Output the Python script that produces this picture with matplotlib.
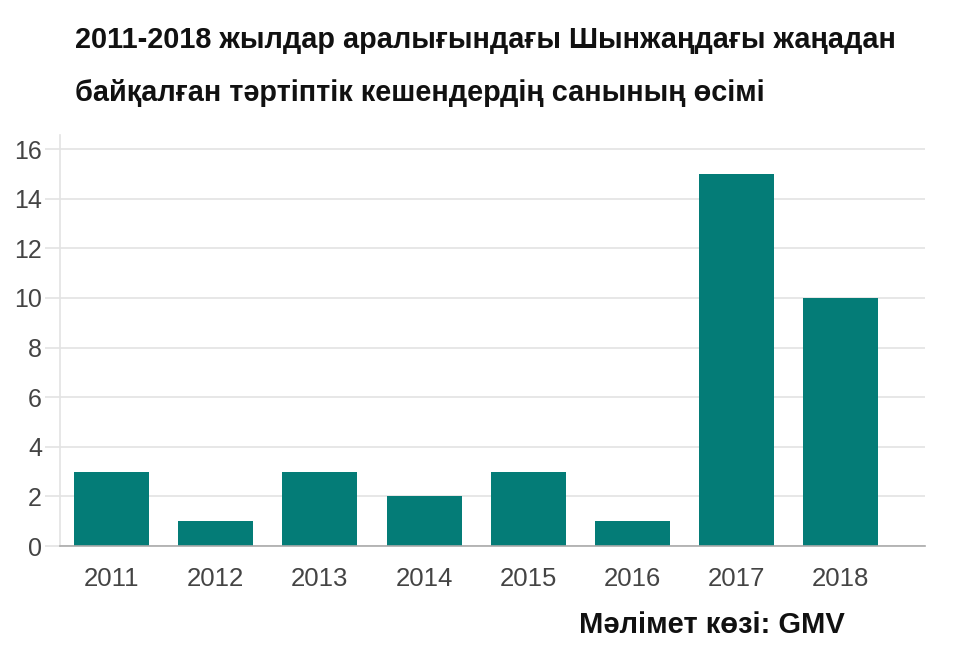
import matplotlib
matplotlib.use("Agg")
import matplotlib.pyplot as plt

years = ["2011", "2012", "2013", "2014", "2015", "2016", "2017", "2018"]
values = [3, 1, 3, 2, 3, 1, 15, 10]
yticks = [0, 2, 4, 6, 8, 10, 12, 14, 16]
title_lines = ["2011-2018 жылдар аралығындағы Шынжаңдағы жаңадан",
               "байқалған тәртіптік кешендердің санының өсімі"]
source = "Мәлімет көзі: GMV"

plt.rcParams['font.family'] = ['Liberation Sans', 'DejaVu Sans']

fig = plt.figure(figsize=(9.76, 6.49), dpi=100)
ax = fig.add_axes([60/976, 1-546/649, (925-60)/976, (546-135)/649])

x = list(range(len(years)))
ax.bar(x, values, width=0.72, color="#047c77", zorder=3)

ax.set_xlim(-0.495, 7.81)
ax.set_ylim(0, 16.57)
ax.set_yticks(yticks)
ax.set_yticklabels([str(t) for t in yticks])
ax.set_xticks(x)
ax.set_xticklabels(years)

ax.grid(axis='y', color="#e3e3e3", linewidth=1.2, zorder=0)
for s in ['top', 'right']:
    ax.spines[s].set_visible(False)
ax.spines['left'].set_color("#e3e3e3")
ax.spines['left'].set_linewidth(1.2)
ax.spines['bottom'].set_color("#aaaaaa")
ax.spines['bottom'].set_linewidth(1.2)
ax.spines['bottom'].set_zorder(4)

ax.tick_params(axis='y', length=11, width=1.2, color="#e3e3e3", pad=2,
               labelsize=18, labelcolor="#444444")
ax.tick_params(axis='x', length=0, pad=15, labelsize=18.5, labelcolor="#444444")

fig.text(75/976, 1-48/649, title_lines[0], fontsize=20.8, fontweight='bold',
         color="#111111", ha='left', va='baseline')
fig.text(75/976, 1-101/649, title_lines[1], fontsize=20.8, fontweight='bold',
         color="#111111", ha='left', va='baseline')
fig.text(845/976, 1-633/649, source, fontsize=21, fontweight='bold',
         color="#111111", ha='right', va='baseline')

fig.savefig("out.png", dpi=100)
